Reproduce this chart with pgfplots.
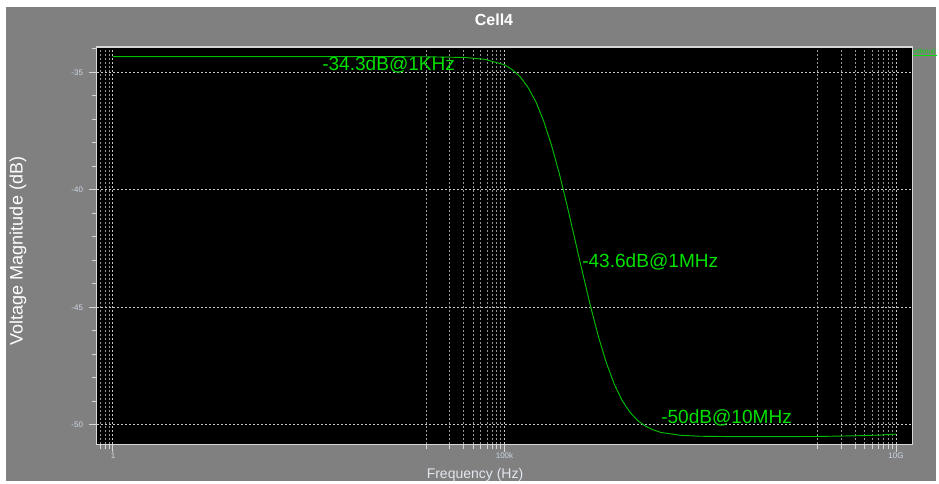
\documentclass[border=0pt]{standalone}
\usepackage{pgfplots}
\pgfplotsset{compat=1.18}
\usepackage{fontspec}
\setmainfont{Liberation Sans}
\definecolor{bggray}{RGB}{128,128,128}
\definecolor{axgray}{RGB}{215,215,215}
\definecolor{gridmaj}{RGB}{200,200,200}
\definecolor{gridmin}{RGB}{150,150,150}
\definecolor{tlab}{RGB}{205,215,228}
\definecolor{curve}{RGB}{0,190,0}
\definecolor{anno}{RGB}{0,225,0}
\begin{document}
\begin{tikzpicture}[x=0.75pt,y=0.75pt]
\path[use as bounding box] (0,0) rectangle (939,483);
\fill[white] (0,0) rectangle (939,483);
\fill[bggray] (6,2) rectangle (936,476);
\begin{axis}[
  at={(72.75pt,29.25pt)}, anchor=south west,
  scale only axis, width=611.25pt, height=297.75pt,
  xmode=log, xmin=0.625, xmax=1.6e10, ymin=-50.81, ymax=-33.924,
  axis background/.style={fill=black},
  axis line style={draw=axgray, line width=0.75pt},
  xtick={1,1e5,1e10}, xticklabels={1,100k,10G},
  minor xtick={0.7,0.8,0.9,1e4,2e4,3e4,4e4,5e4,6e4,7e4,8e4,9e4,1e9,2e9,3e9,4e9,5e9,6e9,7e9,8e9,9e9},
  ytick={-50,-45,-40,-35}, yticklabels={-50,-45,-40,-35},
  minor ytick={-50,-49,...,-34},
  xmajorgrids=true, xminorgrids=true, ymajorgrids=true,
  major grid style={gridmaj, dash pattern=on 1.5pt off 1.5pt, line width=0.75pt},
  minor grid style={gridmin, dash pattern=on 1.5pt off 1.5pt, line width=0.75pt},
  tick align=outside, tick pos=left,
  major tick length=6pt, minor tick length=3.5pt,
  tick style={axgray, line width=0.75pt},
  ticklabel style={font=\fontsize{6}{6}\selectfont, text=tlab},
  xticklabel style={yshift=3pt},
  yticklabel style={xshift=-1pt},
  /pgf/number format/assume math mode=true,
]
\addplot[curve, line width=0.7pt] coordinates {
(1,-34.33)(10,-34.33)(100,-34.33)(1000,-34.33)(1e4,-34.34)(3.162e4,-34.37)(5.623e4,-34.45)
(1e5,-34.68)(1.259e5,-34.89)(1.585e5,-35.19)(1.995e5,-35.64)(2.512e5,-36.25)(3.162e5,-37.07)
(3.981e5,-38.10)(5.012e5,-39.31)(6.310e5,-40.67)(7.943e5,-42.12)(1e6,-43.57)(1.259e6,-44.97)
(1.585e6,-46.25)(1.995e6,-47.35)(2.512e6,-48.25)(3.162e6,-48.95)(3.981e6,-49.45)(5.012e6,-49.81)
(6.310e6,-50.05)(7.943e6,-50.21)(1e7,-50.32)(1.778e7,-50.44)(3.162e7,-50.48)(1e8,-50.50)
(1e9,-50.49)(3.162e9,-50.46)(6.31e9,-50.43)(1e10,-50.39)
};
\node[anchor=west, inner sep=0, text=anno, font=\fontsize{14.3}{14.3}\selectfont] at (axis cs:467,-34.69) {-34.3dB@1KHz};
\node[anchor=west, inner sep=0, text=anno, font=\fontsize{14.3}{14.3}\selectfont] at (axis cs:9.77e5,-43.07) {-43.6dB@1MHz};
\node[anchor=west, inner sep=0, text=anno, font=\fontsize{14.3}{14.3}\selectfont] at (axis cs:9.97e6,-49.70) {-50dB@10MHz};
\end{axis}
\node[text=white, font=\bfseries\fontsize{12}{12}\selectfont] at (494,463) {Cell4};
\node[text=white, rotate=90, font=\fontsize{13.5}{13.5}\selectfont] at (18,232) {Voltage Magnitude (dB)};
\node[text=tlab!60!white, font=\fontsize{10.5}{10.5}\selectfont] at (475,8) {Frequency (Hz)};
\node[anchor=west, inner sep=0, text=anno, font=\fontsize{4.6}{4.6}\selectfont] at (913,431) {vdb(out)};
\draw[anno, line width=0.75pt] (913,427) -- (937,427);
\end{tikzpicture}
\end{document}
